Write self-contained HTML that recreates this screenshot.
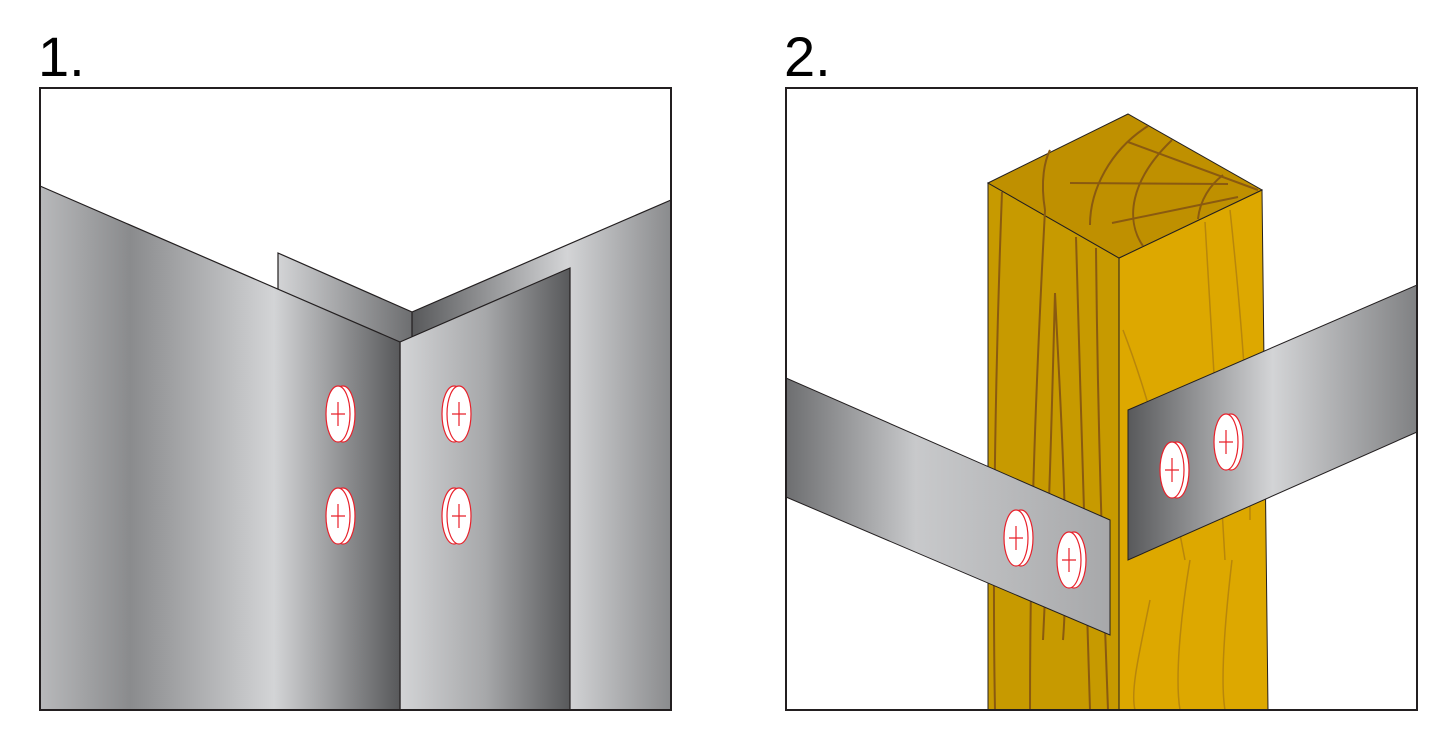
<!DOCTYPE html>
<html><head><meta charset="utf-8"><style>
body{margin:0;background:#fff;width:1446px;height:756px;overflow:hidden}
svg{display:block}
</style></head><body>
<svg width="1446" height="756" viewBox="0 0 1446 756" xmlns="http://www.w3.org/2000/svg">
<defs>
<linearGradient id="m1" x1="40" x2="400" y1="0" y2="0" gradientUnits="userSpaceOnUse">
<stop offset="0" stop-color="#b8b9bb"/><stop offset="0.25" stop-color="#8a8b8d"/><stop offset="0.65" stop-color="#d3d4d6"/><stop offset="1" stop-color="#58595b"/></linearGradient>
<linearGradient id="m2" x1="412" x2="671" y1="0" y2="0" gradientUnits="userSpaceOnUse">
<stop offset="0" stop-color="#58595b"/><stop offset="0.6" stop-color="#d3d4d6"/><stop offset="1" stop-color="#8a8b8d"/></linearGradient>
<linearGradient id="m3" x1="400" x2="570" y1="0" y2="0" gradientUnits="userSpaceOnUse">
<stop offset="0" stop-color="#d3d4d6"/><stop offset="0.5" stop-color="#a7a8aa"/><stop offset="1" stop-color="#58595b"/></linearGradient>
<linearGradient id="m4" x1="278" x2="412" y1="0" y2="0" gradientUnits="userSpaceOnUse">
<stop offset="0" stop-color="#d3d4d6"/><stop offset="1" stop-color="#6d6e70"/></linearGradient>
<linearGradient id="s1" x1="786" x2="1110" y1="0" y2="0" gradientUnits="userSpaceOnUse">
<stop offset="0" stop-color="#6d6e70"/><stop offset="0.4" stop-color="#c8c9cb"/><stop offset="1" stop-color="#a7a8aa"/></linearGradient>
<linearGradient id="s2" x1="1128" x2="1417" y1="0" y2="0" gradientUnits="userSpaceOnUse">
<stop offset="0" stop-color="#58595b"/><stop offset="0.5" stop-color="#d3d4d6"/><stop offset="1" stop-color="#808183"/></linearGradient>
<g id="sc"><ellipse cx="3" cy="0" rx="12" ry="28" fill="#fff" stroke="#e8202a" stroke-width="1.2"/><ellipse cx="-2" cy="0" rx="12" ry="28" fill="#fff" stroke="#e8202a" stroke-width="1.2"/><path d="M-9 0H5M-2 -12V12" stroke="#e8202a" stroke-width="1.2"/></g>
<g id="sc2"><ellipse cx="-3" cy="0" rx="12" ry="28" fill="#fff" stroke="#e8202a" stroke-width="1.2"/><ellipse cx="2" cy="0" rx="12" ry="28" fill="#fff" stroke="#e8202a" stroke-width="1.2"/><path d="M-5 0H9M2 -12V12" stroke="#e8202a" stroke-width="1.2"/></g>
</defs>
<text x="38" y="76" font-family="Liberation Sans, sans-serif" font-size="56">1.</text>
<text x="784" y="76" font-family="Liberation Sans, sans-serif" font-size="56">2.</text>
<rect x="40" y="88" width="631" height="622" fill="#fff" stroke="#231f20" stroke-width="2"/>
<g stroke="#231f20" stroke-width="1.2">
<polygon points="412,312 671,200 671,710 400,710 400,342" fill="url(#m2)"/>
<polygon points="278,253 412,312 412,360 278,300" fill="url(#m4)"/>
<polygon points="400,342 570,268 570,710 400,710" fill="url(#m3)"/>
<polygon points="40,186 400,342 400,710 40,710" fill="url(#m1)"/>
</g>
<use href="#sc" x="340" y="414"/><use href="#sc" x="340" y="516"/><use href="#sc2" x="457" y="414"/><use href="#sc2" x="457" y="516"/>
<rect x="40" y="88" width="631" height="622" fill="none" stroke="#231f20" stroke-width="2"/>

<rect x="786" y="88" width="631" height="622" fill="#fff" stroke="#231f20" stroke-width="2"/>
<g stroke="#231f20" stroke-width="1">
<polygon points="988,183 1119,258 1119,710 988,710" fill="#c79a00"/>
<polygon points="1119,258 1262,190 1268,710 1119,710" fill="#dda800"/>
<polygon points="988,183 1128,114 1262,190 1119,258" fill="#bf9000"/>
</g>
<g fill="none" stroke="#8a5a10" stroke-width="2">
<path d="M1002,192 C996,350 992,550 995,710"/><path d="M1045,210 C1035,400 1030,550 1030,710"/><path d="M1076,237 C1080,400 1088,600 1090,710"/><path d="M1096,248 C1098,450 1104,600 1108,710"/>
<path d="M1043,640 C1050,500 1052,400 1055,293 C1060,400 1070,550 1063,640"/>
<path d="M1045,210 C1040,180 1045,160 1050,150"/><path d="M1090,225 C1090,190 1110,150 1148,126"/><path d="M1143,246 C1125,220 1130,180 1172,140"/><path d="M1198,219 C1200,200 1210,185 1223,175"/>
<path d="M1070,183 L1228,184 M1112,223 L1238,197 M1128,142 L1258,190"/>
</g>
<g fill="none" stroke="#b8860b" stroke-width="1.5">
<path d="M1123,330 C1150,400 1170,480 1185,560"/><path d="M1205,222 C1215,400 1222,500 1225,560"/><path d="M1230,210 C1245,350 1250,450 1250,520"/>
<path d="M1150,600 C1140,650 1130,690 1135,710"/><path d="M1190,560 C1180,620 1175,680 1180,710"/><path d="M1232,560 C1225,620 1220,680 1225,710"/>
</g>
<g stroke="#231f20" stroke-width="1">
<polygon points="786,378 1110,520 1110,635 786,497" fill="url(#s1)"/>
<polygon points="1128,410 1417,285 1417,432 1128,560" fill="url(#s2)"/>
</g>
<use href="#sc" x="1018" y="538"/><use href="#sc" x="1071" y="560"/><use href="#sc" x="1174" y="470"/><use href="#sc" x="1228" y="442"/>
<rect x="786" y="88" width="631" height="622" fill="none" stroke="#231f20" stroke-width="2"/>
</svg>
</body></html>
